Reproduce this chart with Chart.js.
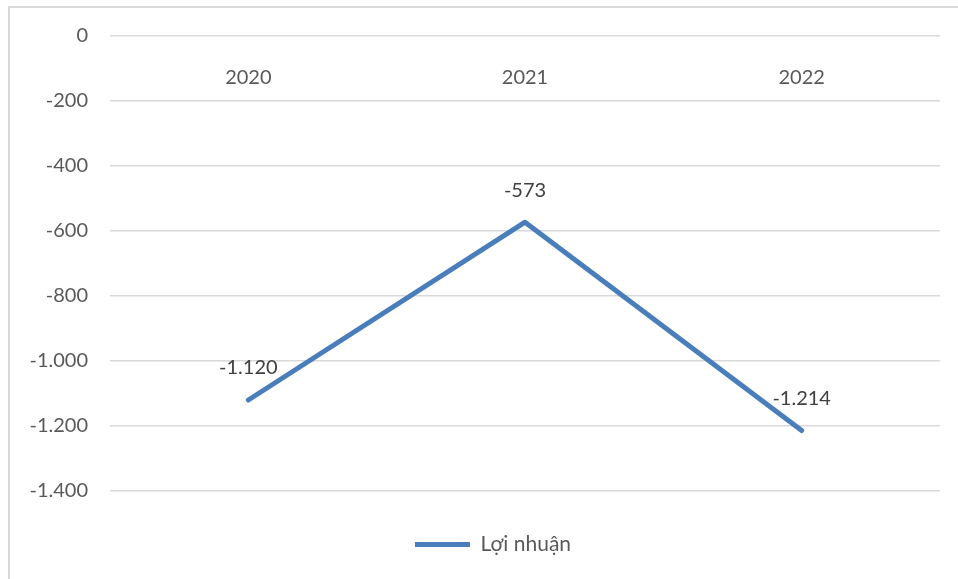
<!DOCTYPE html>
<html>
<head>
<meta charset="utf-8">
<script src="https://cdn.jsdelivr.net/npm/chart.js@4.4.1/dist/chart.umd.min.js"></script>
<style>
  html, body { margin: 0; padding: 0; background: #fff; overflow: hidden; }
  #frame { position: absolute; left: 8px; top: 6px; width: 980px; height: 600px; border: 2px solid #d9d9d9; }
  #chart { position: absolute; left: 0; top: 0; }
</style>
</head>
<body>
<div id="frame"></div>
<canvas id="chart" width="958" height="579"></canvas>
<script>
const years = ["2020", "2021", "2022"];
const profit = [-1120, -573, -1214];
const seriesName = "Lợi nhuận";
const yMin = -1400;
const yMax = 0;
const yStep = 200;

const FONT = "Lato, 'Open Sans', sans-serif";

// 1234 -> "1.234" like the original (Vietnamese grouping)
function fmt(v) {
    const s = String(Math.abs(Math.round(v))).replace(/\B(?=(\d{3})+(?!\d))/g, ".");
    return (v < 0 ? "-" : "") + s;
}

// value labels above each point
const valueLabels = {
    id: "valueLabels",
    afterDatasetsDraw(chart) {
        const ctx = chart.ctx;
        const meta = chart.getDatasetMeta(0);
        ctx.save();
        ctx.font = "20px " + FONT;
        ctx.fillStyle = "#404040";
        ctx.textAlign = "center";
        ctx.textBaseline = "middle";
        meta.data.forEach((pt, i) => {
            ctx.fillText(fmt(chart.data.datasets[0].data[i]), pt.x, pt.y - 32);
        });
        ctx.restore();
    }
};

// the legend in the original sits a little right of the page centre
const legendShift = {
    id: "legendShift",
    afterLayout(chart) {
        if (chart.legend) chart.legend.left += 46;
    }
};

new Chart(document.getElementById("chart"), {
    type: "line",
    data: {
        labels: years,
        datasets: [{
            label: seriesName,
            data: profit,
            borderColor: "#4a7ebb",
            backgroundColor: "#4a7ebb",
            borderWidth: 5,
            borderCapStyle: "round",
            borderJoinStyle: "round",
            pointRadius: 0,
            pointHoverRadius: 0,
            tension: 0,
            xAxisID: "x",
        }],
    },
    options: {
        responsive: false,
        animation: false,
        events: [],
        layout: {
            padding: { left: 0, right: 18, top: 36, bottom: 14 },
        },
        plugins: {
            legend: {
                position: "bottom",
                labels: {
                    usePointStyle: true,
                    pointStyle: "line",
                    pointStyleWidth: 55,
                    color: "#595959",
                    font: { family: FONT, size: 21 },
                },
            },
            tooltip: { enabled: false },
        },
        scales: {
            x: {
                type: "category",
                position: { y: 0 },
                offset: true,
                grid: { display: false },
                border: { display: false },
                ticks: {
                    padding: 22,
                    color: "#595959",
                    font: { family: FONT, size: 20 },
                },
            },
            // empty axis at the bottom, only keeps space above the legend
            xSpacer: {
                type: "category",
                position: "bottom",
                labels: years,
                grid: { display: false },
                border: { display: false },
                ticks: { display: false },
                afterFit: (s) => { s.height = 33; },
            },
            y: {
                min: yMin,
                max: yMax,
                grid: { color: "#d9d9d9", lineWidth: 1.5, drawTicks: false },
                border: { display: false },
                ticks: {
                    stepSize: yStep,
                    padding: 22,
                    color: "#595959",
                    font: { family: FONT, size: 20 },
                    callback: (v) => fmt(v),
                },
                afterFit: (s) => { s.width = 110; },
            },
        },
    },
    plugins: [valueLabels, legendShift],
});
</script>
</body>
</html>
